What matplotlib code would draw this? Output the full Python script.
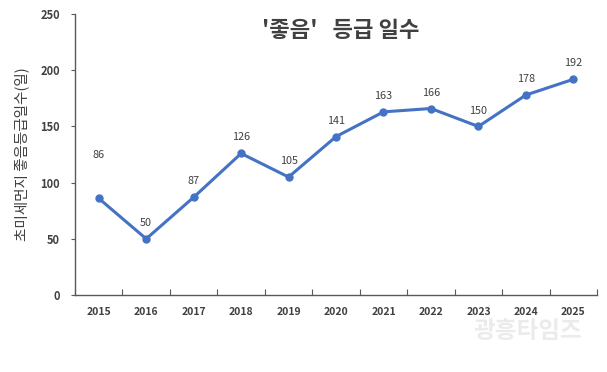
import matplotlib
matplotlib.use('Agg')
import matplotlib.pyplot as plt
import numpy as np

plt.rcParams['font.family'] = ['Noto Sans CJK KR', 'DejaVu Sans']

years = ['2015', '2016', '2017', '2018', '2019', '2020', '2021', '2022', '2023', '2024', '2025']
good_days = [86, 50, 87, 126, 105, 141, 163, 166, 150, 178, 192]

title = "'좋음'   등급 일수"
y_label = '초미세먼지 좋음등급일수(일)'

line_color = '#4472C4'
text_color = '#404040'
axis_color = '#595959'

fig = plt.figure(figsize=(6.07, 3.72), dpi=100)
ax = fig.add_axes([0.1236, 0.207, 0.86, 0.755])

x = np.arange(len(years))
ax.plot(x, good_days, color=line_color, linewidth=2.2, marker='o', markersize=5)

# data labels above points (first one sits higher, like the original)
for i, v in enumerate(good_days):
    dy = 31 if i == 0 else 11.5
    ax.annotate(str(v), (x[i], v), xytext=(0, dy), textcoords='offset points',
                ha='center', va='center', fontsize=7.8, color=text_color)

ax.set_xlim(-0.5, len(years) - 0.5)
ax.set_ylim(0, 250)
ax.set_yticks(range(0, 251, 50))
ax.set_yticklabels([str(t) for t in range(0, 251, 50)], fontsize=8, fontweight='bold', color=text_color)

# category labels centred, tick marks between categories
ax.set_xticks(np.arange(-0.5, len(years), 1.0))
ax.set_xticklabels([])
ax.set_xticks(x, minor=True)
ax.set_xticklabels(years, minor=True, fontsize=7.5, fontweight='bold', color=text_color)
ax.tick_params(axis='x', which='major', direction='in', length=4, color=axis_color)
ax.tick_params(axis='x', which='minor', length=0, pad=9)
ax.tick_params(axis='y', direction='out', length=3, color=axis_color, pad=8)

for side in ['top', 'right']:
    ax.spines[side].set_visible(False)
for side in ['left', 'bottom']:
    ax.spines[side].set_color(axis_color)
    ax.spines[side].set_linewidth(1.0)

ax.set_ylabel(y_label, fontsize=10.5, color=text_color, labelpad=8)

fig.text(0.562, 0.918, title, ha='center', va='center', fontsize=16, fontweight='bold', color=text_color)

# faint watermark
fig.text(0.87, 0.11, '광흥타임즈', ha='center', va='center', fontsize=17, fontweight='bold',
         fontstyle='italic', color='#e6e6e6', alpha=0.8)

fig.savefig('out.png', dpi=100, facecolor='white')
